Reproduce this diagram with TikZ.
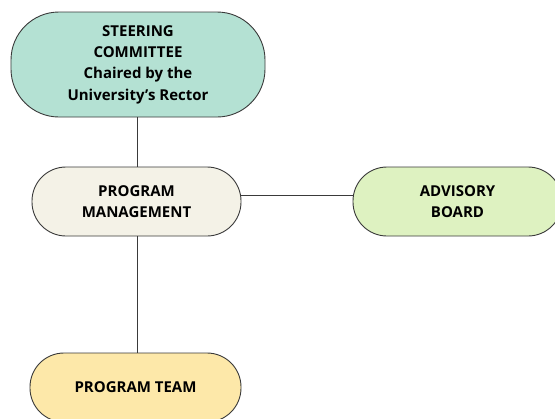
\documentclass[tikz,border=0pt]{standalone}
\usepackage{fontspec}
\setmainfont{Open Sans}
\definecolor{steerfill}{HTML}{B4E1D3}
\definecolor{mgmtfill}{HTML}{F4F2E7}
\definecolor{advfill}{HTML}{DEF2C1}
\definecolor{teamfill}{HTML}{FDE8A9}
\definecolor{edgegray}{HTML}{3A3A3A}
\begin{document}
\begin{tikzpicture}[x=1bp,y=-1bp,
  unit/.style={draw=edgegray,line width=0.9bp,inner sep=0pt,align=center,
    font=\fontsize{15bp}{21.3bp}\selectfont\bfseries,text=black},
  link/.style={draw=edgegray,line width=0.9bp}]
\useasboundingbox[fill=white] (0,0) rectangle (555,418);
\node[unit,fill=steerfill,minimum width=254bp,minimum height=105bp,rounded corners=48bp]
  (steer) at (138,64.5) {STEERING\\COMMITTEE\\Chaired by the\\University’s Rector};
\node[unit,fill=mgmtfill,minimum width=209bp,minimum height=69bp,rounded corners=34bp]
  (mgmt) at (136.5,201.5) {PROGRAM\\MANAGEMENT};
\node[unit,fill=advfill,minimum width=209bp,minimum height=69bp,rounded corners=34bp]
  (adv) at (457.5,201.5) {ADVISORY\\BOARD};
\node[unit,fill=teamfill,minimum width=211bp,minimum height=69bp,rounded corners=34bp]
  (team) at (135.5,387.5) {PROGRAM TEAM};
\draw[link] (steer.south -| 137,0) -- (mgmt.north -| 137,0);
\draw[link] (mgmt.south -| 137,0) -- (team.north -| 137,0);
\draw[link] (mgmt.east |- 0,195) -- (adv.west |- 0,195);
\end{tikzpicture}
\end{document}
